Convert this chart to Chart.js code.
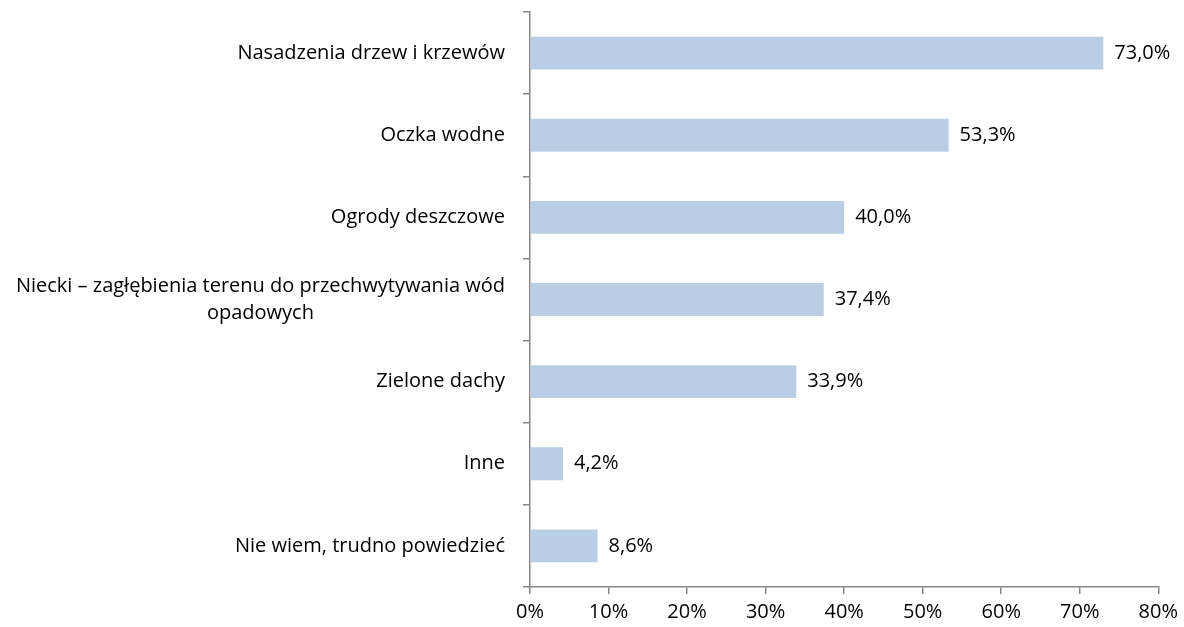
<!DOCTYPE html>
<html>
<head>
<meta charset="utf-8">
<script src="https://cdn.jsdelivr.net/npm/chart.js@4"></script>
<style>
  html, body { margin: 0; padding: 0; background: #fff; }
  #wrap { width: 1184px; height: 627px; }
</style>
</head>
<body>
<div id="wrap"><canvas id="chart"></canvas></div>
<script>
const categories = [
  ["Nasadzenia drzew i krzewów"],
  ["Oczka wodne"],
  ["Ogrody deszczowe"],
  ["Niecki – zagłębienia terenu do przechwytywania wód", "opadowych"],
  ["Zielone dachy"],
  ["Inne"],
  ["Nie wiem, trudno powiedzieć"]
];
const values = [73.0, 53.3, 40.0, 37.4, 33.9, 4.2, 8.6];
const xTicks = [0, 10, 20, 30, 40, 50, 60, 70, 80];

const FONT = "'Open Sans', sans-serif";
const SIZE = 20;
const AXIS = "#868686";

const fmt = v => v.toFixed(1).replace(".", ",") + "%";

// category labels, centred lines, right edge near the axis
const catLabels = {
  id: "catLabels",
  afterDraw(chart) {
    const { ctx, scales: { y } } = chart;
    ctx.save();
    ctx.font = SIZE + "px " + FONT;
    ctx.fillStyle = "#000";
    ctx.textBaseline = "middle";
    ctx.textAlign = "center";
    const right = y.right - 25;
    const lh = 27;
    categories.forEach((lines, i) => {
      const cy = y.getPixelForValue(i);
      const w = Math.max(...lines.map(l => ctx.measureText(l).width));
      const top = cy - (lines.length - 1) * lh / 2;
      lines.forEach((l, k) => ctx.fillText(l, right - w / 2, top + k * lh));
    });
    ctx.restore();
  }
};

// value labels right of each bar
const valueLabels = {
  id: "valueLabels",
  afterDatasetsDraw(chart) {
    const { ctx } = chart;
    const meta = chart.getDatasetMeta(0);
    ctx.save();
    ctx.font = SIZE + "px " + FONT;
    ctx.fillStyle = "#000";
    ctx.textBaseline = "middle";
    ctx.textAlign = "left";
    meta.data.forEach((bar, i) => {
      ctx.fillText(fmt(values[i]), bar.x + 11, bar.y);
    });
    ctx.restore();
  }
};

new Chart(document.getElementById("chart"), {
  type: "bar",
  data: {
    labels: categories.map(c => c.join(" ")),
    datasets: [{
      data: values,
      backgroundColor: "#b9cde5",
      borderWidth: 0,
      barPercentage: 0.4,
      categoryPercentage: 1
    }]
  },
  options: {
    indexAxis: "y",
    responsive: true,
    maintainAspectRatio: false,
    animation: false,
    layout: { padding: { top: 12, right: 22, bottom: 0, left: 0 } },
    plugins: {
      legend: { display: false },
      tooltip: { enabled: false }
    },
    scales: {
      x: {
        min: 0,
        max: 80,
        afterBuildTicks: s => { s.ticks = xTicks.map(v => ({ value: v })); },
        afterFit: s => { s.height = 40; },
        border: { color: AXIS, width: 1.5 },
        grid: { drawOnChartArea: false, tickLength: 7, color: AXIS, lineWidth: 1.5 },
        ticks: {
          color: "#000",
          padding: 6,
          maxRotation: 0,
          autoSkip: false,
          font: { family: FONT, size: SIZE },
          callback: v => v + "%"
        }
      },
      y: {
        afterFit: s => { s.width = 530; },
        border: { color: AXIS, width: 1.5 },
        grid: { drawOnChartArea: false, offset: true, tickLength: 7, color: AXIS, lineWidth: 1.5 },
        ticks: { callback: () => "" }
      }
    }
  },
  plugins: [catLabels, valueLabels]
});
</script>
</body>
</html>
